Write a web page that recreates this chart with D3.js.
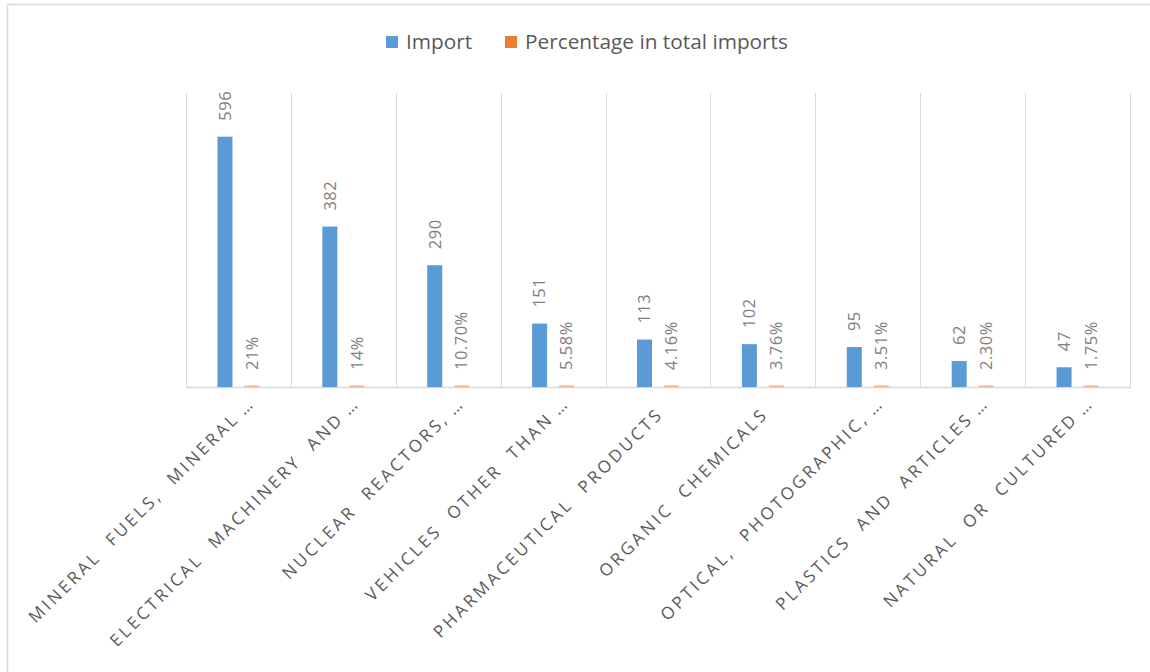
<!DOCTYPE html>
<html>
<head>
<meta charset="utf-8">
<script src="https://cdn.jsdelivr.net/npm/d3@7"></script>
<style>
  body { margin: 0; background: #fff; }
  svg { display: block; font-family: "Open Sans", sans-serif; }
</style>
</head>
<body>
<svg id="chart" width="1150" height="672"></svg>
<script>
// Data
const categories = [
    "MINERAL FUELS, MINERAL\u2009…",
    "ELECTRICAL MACHINERY AND\u2009…",
    "NUCLEAR REACTORS,\u2009…",
    "VEHICLES OTHER THAN\u2009…",
    "PHARMACEUTICAL PRODUCTS ",
    "ORGANIC CHEMICALS ",
    "OPTICAL, PHOTOGRAPHIC,\u2009…",
    "PLASTICS AND ARTICLES\u2009…",
    "NATURAL OR CULTURED\u2009…"
]
const importValues = [596, 382, 290, 151, 113, 102, 95, 62, 47]
const shareValues = [0.21, 0.14, 0.107, 0.0558, 0.0416, 0.0376, 0.0351, 0.023, 0.0175]
const shareLabels = ["21%", "14%", "10.70%", "5.58%", "4.16%", "3.76%", "3.51%", "2.30%", "1.75%"]
const seriesNames = ["Import", "Percentage in total imports"]
const seriesColors = ["#5B9BD5", "#ED7D31"]

// Layout
const plot = { left: 186, right: 1130, top: 93, bottom: 387 }
const gridColor = "#d9d9d9"

const svg = d3.select("#chart")

// outer frame (only top and left edges are visible)
svg.append("line").attr("x1", 7.5).attr("x2", 1150).attr("y1", 4.5).attr("y2", 4.5)
    .attr("stroke", gridColor).attr("stroke-width", 1.5)
svg.append("line").attr("x1", 7.5).attr("x2", 7.5).attr("y1", 4.5).attr("y2", 672)
    .attr("stroke", gridColor).attr("stroke-width", 1.5)

const x = d3.scaleBand()
    .domain(categories)
    .range([plot.left, plot.right])
    .padding(0)

const xs = d3.scaleBand()
    .domain(seriesNames)
    .range([0, x.bandwidth()])
    .paddingInner(0.444)
    .paddingOuter(1.165)

const y = d3.scaleLinear()
    .domain([0, 700])
    .range([plot.bottom, plot.top])

// vertical gridlines at category borders
const borders = categories.map(c => x(c)).concat([plot.right])
svg.append("g").selectAll("line").data(borders).join("line")
    .attr("x1", d => Math.round(d) + 0.5).attr("x2", d => Math.round(d) + 0.5)
    .attr("y1", plot.top).attr("y2", plot.bottom)
    .attr("stroke", gridColor).attr("stroke-width", 1)

// baseline
svg.append("line")
    .attr("x1", plot.left).attr("x2", plot.right + 1)
    .attr("y1", plot.bottom + 0.5).attr("y2", plot.bottom + 0.5)
    .attr("stroke", gridColor).attr("stroke-width", 1.5)

// Import bars
svg.append("g").selectAll("rect").data(importValues).join("rect")
    .attr("x", (d, i) => x(categories[i]) + xs("Import"))
    .attr("width", xs.bandwidth())
    .attr("y", d => y(d))
    .attr("height", d => y(0) - y(d))
    .attr("fill", seriesColors[0])

// Share bars (fractions, so they are nearly flat)
svg.append("g").selectAll("rect").data(shareValues).join("rect")
    .attr("x", (d, i) => x(categories[i]) + xs(seriesNames[1]))
    .attr("width", xs.bandwidth())
    .attr("y", d => Math.min(y(d), plot.bottom - 1.5))
    .attr("height", d => Math.max(y(0) - y(d), 1.5))
    .attr("fill", seriesColors[1])
    .attr("opacity", 0.55)

// data labels
function addLabels(values, texts, series){
    svg.append("g").selectAll("text").data(values).join("text")
        .attr("transform", (d, i) => {
            const cx = x(categories[i]) + xs(series) + xs.bandwidth() / 2
            const top = Math.min(y(d), plot.bottom - 1)
            return "translate(" + cx + "," + (top - 16) + ") rotate(-90)"
        })
        .attr("dy", "0.35em")
        .attr("text-anchor", "start")
        .attr("fill", "#7f7f7f")
        .style("font-size", "16.5px")
        .style("letter-spacing", "0.5px")
        .text((d, i) => texts[i])
}
addLabels(importValues, importValues.map(String), "Import")
addLabels(shareValues, shareLabels, seriesNames[1])

// category labels, rotated -45
svg.append("g").selectAll("text").data(categories).join("text")
    .attr("transform", d => "translate(" + (x(d) + x.bandwidth() / 2 + 13) + "," + (plot.bottom + 13) + ") rotate(-45)")
    .attr("dy", "0.35em")
    .attr("text-anchor", "end")
    .attr("fill", "#595959")
    .style("white-space", "pre")
    .style("font-size", "17px")
    .style("letter-spacing", "3px")
    .style("word-spacing", "8px")
    .text(d => d)

// legend
const legend = svg.append("g")
const legendX = [386, 505]
seriesNames.forEach((name, i) => {
    legend.append("rect")
        .attr("x", legendX[i]).attr("y", 36)
        .attr("width", 12).attr("height", 12)
        .attr("fill", seriesColors[i])
    legend.append("text")
        .attr("x", legendX[i] + 20).attr("y", 49)
        .attr("fill", "#595959")
        .style("font-size", "20.8px")
        .text(name)
})
</script>
</body>
</html>
